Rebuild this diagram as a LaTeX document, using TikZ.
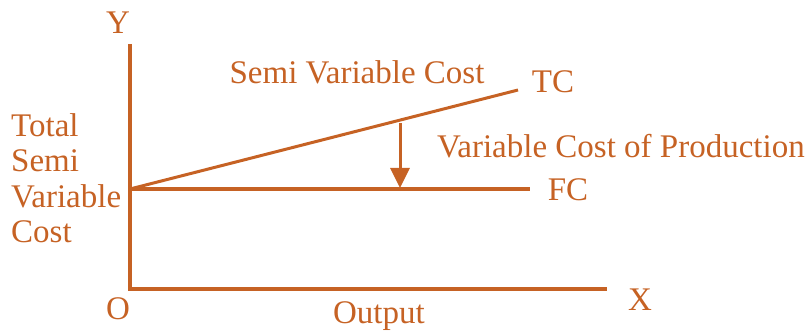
\documentclass[tikz,border=0pt]{standalone}
\usepackage{fontspec}
\setmainfont{Liberation Serif}
\usetikzlibrary{arrows.meta}
\definecolor{brn}{RGB}{198,98,36}
\begin{document}
\begin{tikzpicture}[x=1pt,y=1pt,
  lbl/.style={text=brn,font=\fontsize{33}{35.5}\selectfont,inner sep=0pt},
  axis/.style={draw=brn,line width=3.5pt},
  curve/.style={draw=brn,line width=3pt}]
\useasboundingbox (0,0) rectangle (808,335);
\coordinate (O) at (130,46);
\coordinate (Yt) at (130,291);
\coordinate (Xe) at (607,46);
\coordinate (F0) at (130,146);
\coordinate (F1) at (530,146);
\coordinate (T1) at (518,245);
\coordinate (A0) at (400,212);
\coordinate (A1) at (400,147);
\draw[axis,line cap=butt] (Yt) -- (O) -- (Xe);
\draw[curve] (F0) -- (F1);
\draw[curve] (F0) -- (T1);
\draw[brn,line width=3pt,-{Triangle[length=20pt,width=19pt]}] (A0) -- (A1);
\node[lbl] (y) at (118,312) {Y};
\node[lbl] (x) at (640,35) {X};
\node[lbl] (o) at (118,26) {O};
\node[lbl] (out) at (379,19) {Output};
\node[lbl] (svc) at (357,263) {Semi Variable Cost};
\node[lbl] (tc) at (553,253) {TC};
\node[lbl] (fc) at (568,145) {FC};
\node[lbl,anchor=west] (vcp) at (437,189) {Variable Cost of Production};
\node[lbl,anchor=west,align=left] (tsvc) at (11,157) {Total\\Semi\\Variable\\Cost};
\end{tikzpicture}
\end{document}
